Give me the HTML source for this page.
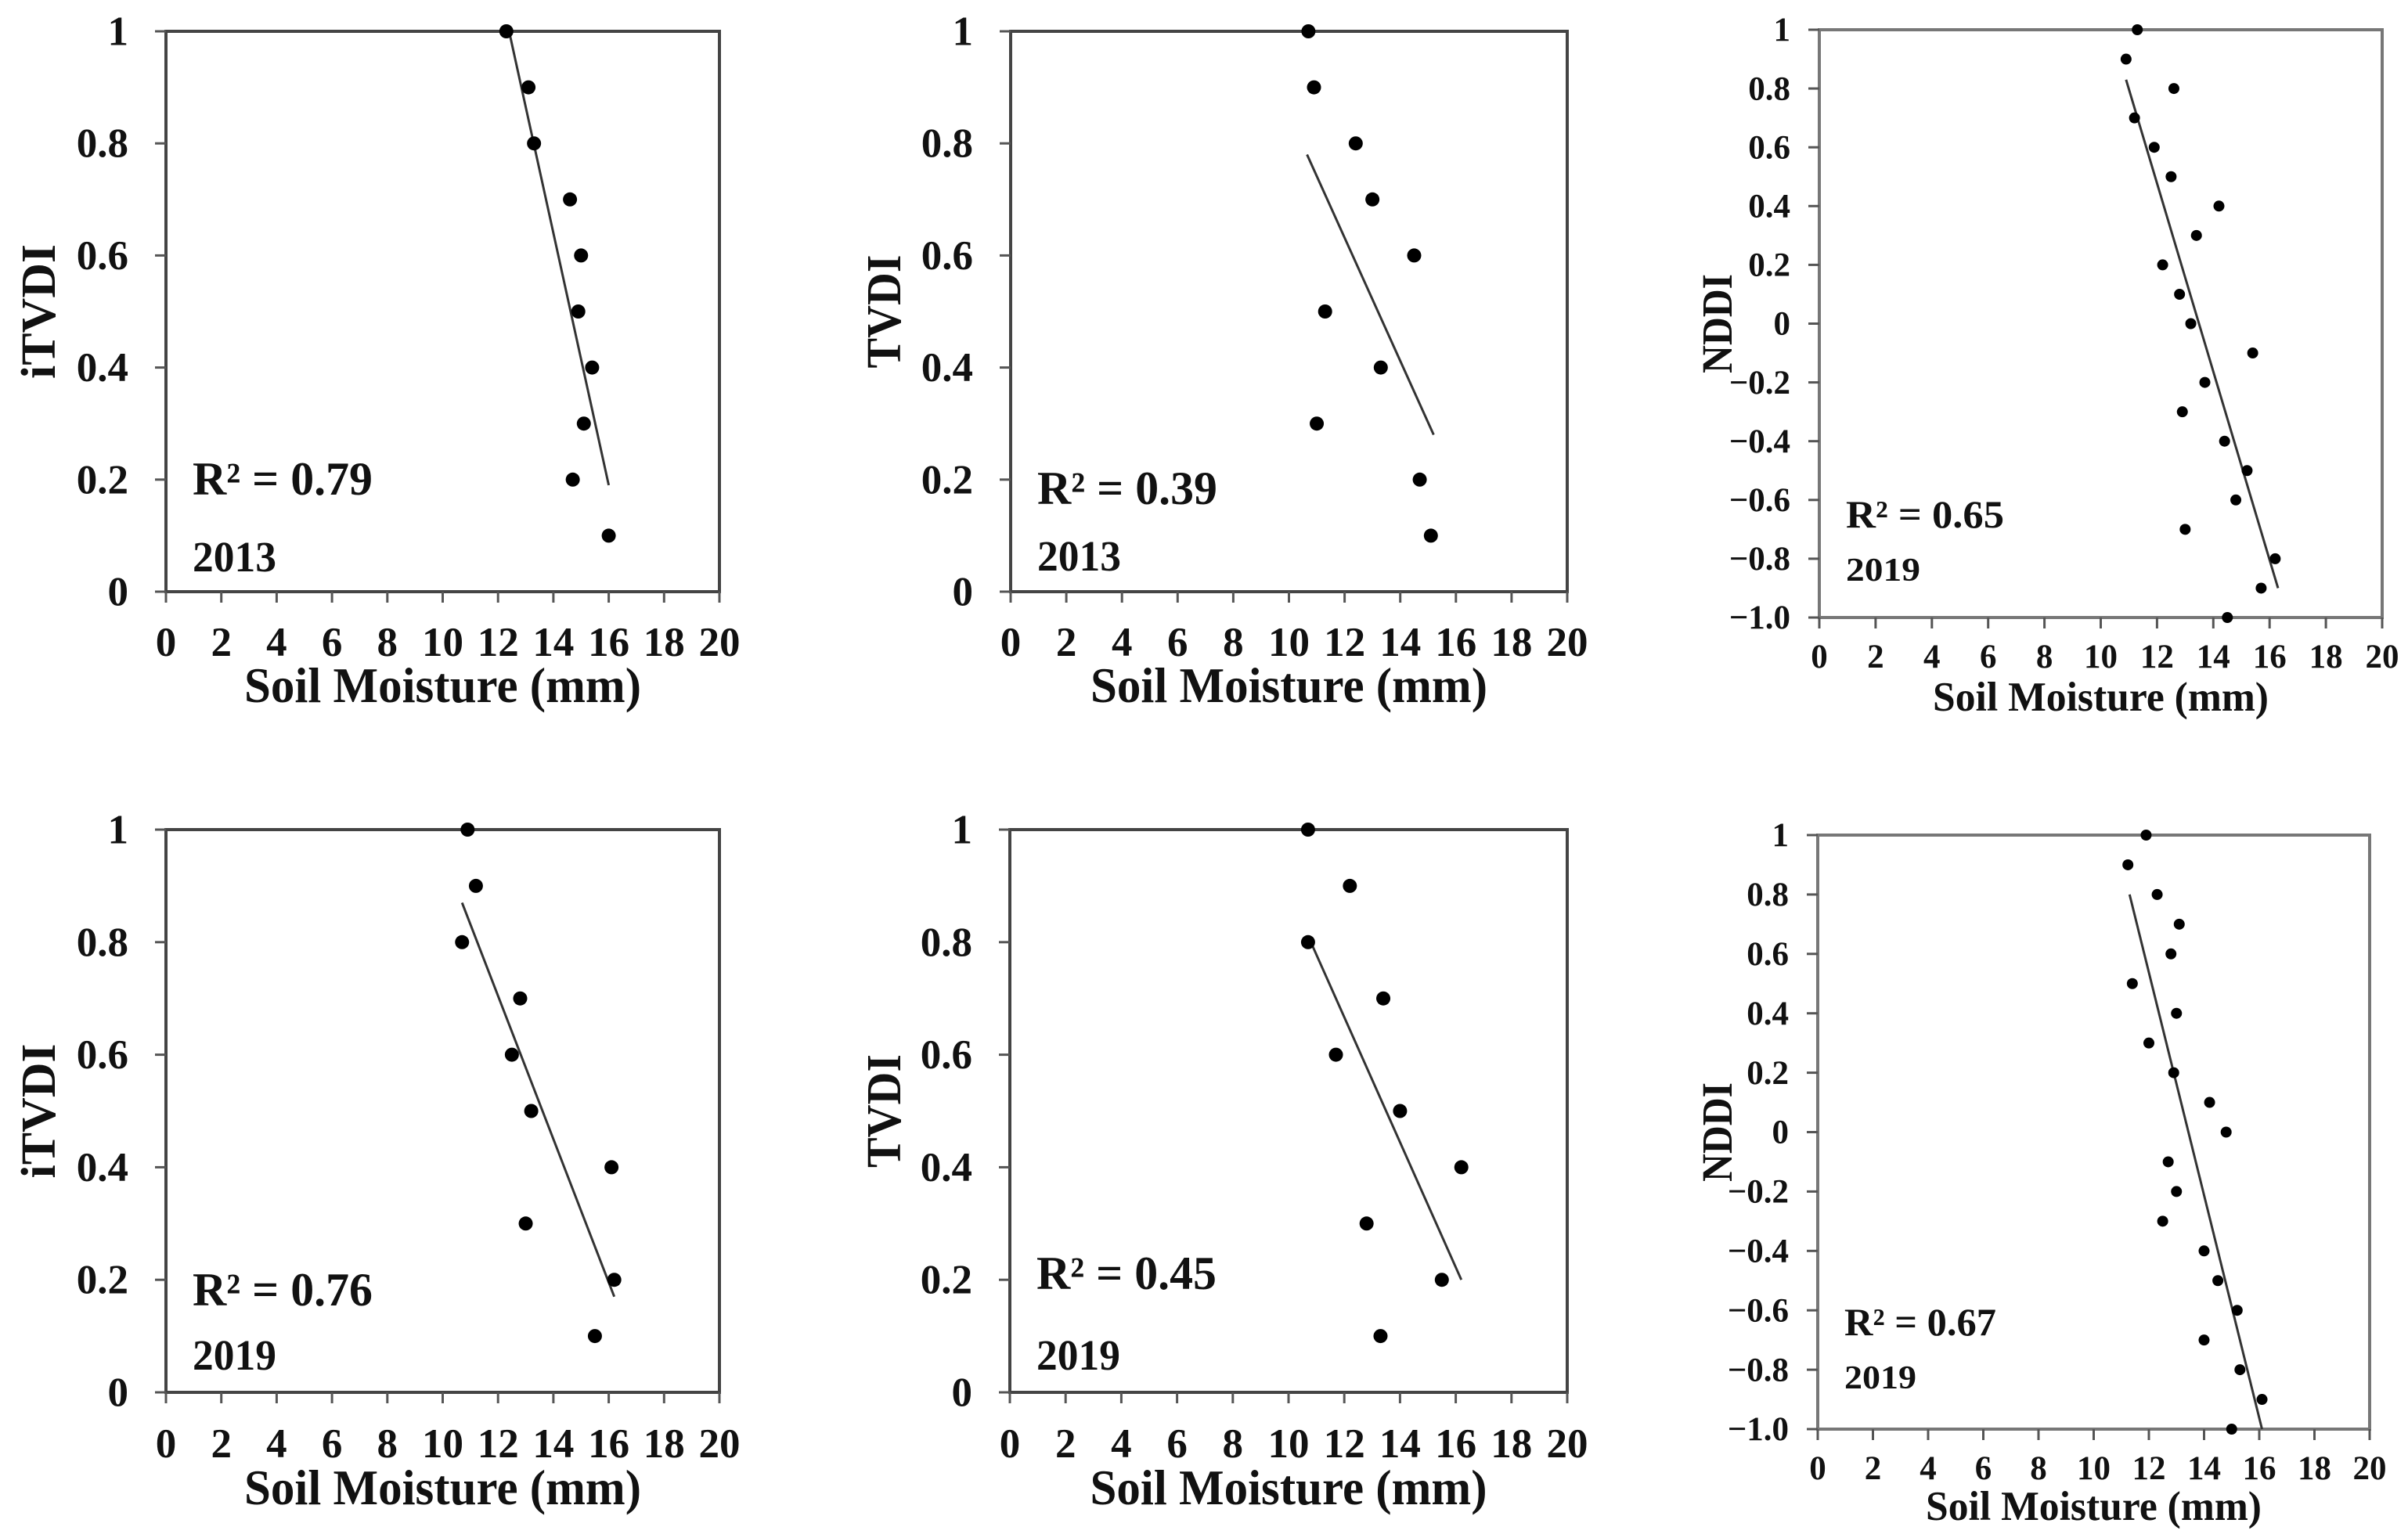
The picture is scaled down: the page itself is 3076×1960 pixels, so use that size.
<!DOCTYPE html>
<html><head><meta charset="utf-8">
<style>
html,body{margin:0;padding:0;background:#fff;}
svg{display:block;}
text{font-family:"Liberation Serif",serif;font-weight:bold;fill:#111;}
</style></head>
<body>
<svg id="fig" width="3076" height="1960" viewBox="0 0 3076 1960" xmlns="http://www.w3.org/2000/svg"></svg>
<script>
// ---- data ----
const xTicks = [0,2,4,6,8,10,12,14,16,18,20];
const yTicks01 = [0,0.2,0.4,0.6,0.8,1];
const yTicks01Labels = ["0","0.2","0.4","0.6","0.8","1"];
const yTicksNddi = [-1,-0.8,-0.6,-0.4,-0.2,0,0.2,0.4,0.6,0.8,1];
const yTicksNddiLabels = ["\u22121.0","\u22120.8","\u22120.6","\u22120.4","\u22120.2","0","0.2","0.4","0.6","0.8","1"];

const p1X = [12.3,13.1,13.3,14.6,15.0,14.9,15.4,15.1,14.7,16.0];
const p1Y = [1,0.9,0.8,0.7,0.6,0.5,0.4,0.3,0.2,0.1];
const p1FitX = [12.4,16.0];
const p1FitY = [1.0,0.19];

const p2X = [10.7,10.9,12.4,13.0,14.5,11.3,13.3,11.0,14.7,15.1];
const p2Y = [1,0.9,0.8,0.7,0.6,0.5,0.4,0.3,0.2,0.1];
const p2FitX = [10.65,15.2];
const p2FitY = [0.78,0.28];

const p3X = [11.3,10.9,12.6,11.2,11.9,12.5,14.2,13.4,12.2,12.8,13.2,15.4,13.7,12.9,14.4,15.2,14.8,13.0,16.2,15.7,14.5];
const p3Y = [1,0.9,0.8,0.7,0.6,0.5,0.4,0.3,0.2,0.1,0,-0.1,-0.2,-0.3,-0.4,-0.5,-0.6,-0.7,-0.8,-0.9,-1.0];
const p3FitX = [10.9,16.3];
const p3FitY = [0.83,-0.9];

const p4X = [10.9,11.2,10.7,12.8,12.5,13.2,16.1,13.0,16.2,15.5];
const p4Y = [1,0.9,0.8,0.7,0.6,0.5,0.4,0.3,0.2,0.1];
const p4FitX = [10.7,16.2];
const p4FitY = [0.87,0.17];

const p5X = [10.7,12.2,10.7,13.4,11.7,14.0,16.2,12.8,15.5,13.3];
const p5Y = [1,0.9,0.8,0.7,0.6,0.5,0.4,0.3,0.2,0.1];
const p5FitX = [10.8,16.2];
const p5FitY = [0.8,0.2];

const p6X = [11.9,11.24,12.3,13.1,12.8,11.4,13.0,12.0,12.9,14.2,14.8,12.7,13.0,12.5,14.0,14.5,15.2,14.0,15.3,16.1,15.0];
const p6Y = [1,0.9,0.8,0.7,0.6,0.5,0.4,0.3,0.2,0.1,0,-0.1,-0.2,-0.3,-0.4,-0.5,-0.6,-0.7,-0.8,-0.9,-1.0];
const p6FitX = [11.3,16.1];
const p6FitY = [0.8,-1.0];

const NS = "http://www.w3.org/2000/svg";
const svg = document.getElementById('fig');
function mk(tag, attrs, parent){
  const e = document.createElementNS(NS, tag);
  for (const k in attrs) e.setAttribute(k, attrs[k]);
  (parent||svg).appendChild(e);
  return e;
}

function panel(cfg){
  const g = mk('g', {});
  
  
  const L=cfg.l,R=cfg.r,T=cfg.t,B=cfg.b;
  const sx = v => L + (v-0)/(20-0)*(R-L);
  const sy = v => B - (v-cfg.ymin)/(cfg.ymax-cfg.ymin)*(B-T);
  const fs = cfg.small ? 43 : 53;
  const fr = mk('rect',{x:L,y:T,width:R-L,height:B-T,fill:'none',stroke:cfg.small?'#777':'#444','stroke-width':4},g);
  
  
  xTicks.forEach(v=>{
    const x=sx(v);
    const tk = mk('line',{x1:x,y1:B,x2:x,y2:B+14,stroke:'#555','stroke-width':3},g);
    
    
    const t = mk('text',{x:x,y:cfg.xtickY,'font-size':fs,'text-anchor':'middle'},g);
    t.textContent = v;
    
    
  });
  cfg.yt.forEach((v,i)=>{
    const y=sy(v);
    const tk = mk('line',{x1:L-14,y1:y,x2:L,y2:y,stroke:'#555','stroke-width':3},g);
    
    
    const t = mk('text',{x:L-(cfg.small?37:48),y:y+fs*0.33,'font-size':fs,'text-anchor':'end'},g);
    t.textContent = cfg.ytl[i];
    
    
  });
  const xt = mk('text',{x:(L+R)/2,y:cfg.xtitleY,'font-size':cfg.small?53:63,'text-anchor':'middle',textLength:cfg.small?429:507,lengthAdjust:'spacingAndGlyphs'},g);
  xt.textContent = 'Soil Moisture (mm)';
  
  
  const yc = (T+B)/2;
  const yt = mk('text',{x:cfg.ytitleX,y:yc,'font-size':cfg.small?55:62,'text-anchor':'middle',transform:`rotate(-90 ${cfg.ytitleX} ${yc})`,textLength:cfg.ylen,lengthAdjust:'spacingAndGlyphs'},g);
  yt.textContent = cfg.ylabel;
  
  
  const fl = mk('line',{x1:sx(cfg.fx[0]),y1:sy(cfg.fy[0]),x2:sx(cfg.fx[1]),y2:sy(cfg.fy[1]),stroke:'#333','stroke-width':3},g);
  
  
  cfg.xs.forEach((xv,i)=>{
    const c = mk('circle',{cx:sx(xv),cy:sy(cfg.ys[i]),r:cfg.small?7:9,fill:'#000'},g);
    
    
  });
  const r2 = mk('text',{x:L+34,y:cfg.r2Y,'font-size':cfg.small?50:60,textLength:cfg.r2len,lengthAdjust:'spacingAndGlyphs'},g);
  r2.textContent = cfg.r2;
  
  
  const yr = mk('text',{x:L+34,y:cfg.yrY,'font-size':cfg.small?42:55,textLength:cfg.yrlen,lengthAdjust:'spacingAndGlyphs'},g);
  yr.textContent = cfg.year;
  
  
}

panel({name:'panel-itvdi-2013',l:212,r:919,t:40,b:756,ymin:0,ymax:1,yt:yTicks01,ytl:yTicks01Labels,xs:p1X,ys:p1Y,fx:p1FitX,fy:p1FitY,
  ylabel:'iTVDI',ylen:172,ytitleX:70,xtickY:838,xtitleY:897,r2:'R² = 0.79',r2len:230,r2Y:632,year:'2013',yrlen:107,yrY:730});
panel({name:'panel-tvdi-2013',l:1291,r:2002,t:40,b:756,ymin:0,ymax:1,yt:yTicks01,ytl:yTicks01Labels,xs:p2X,ys:p2Y,fx:p2FitX,fy:p2FitY,
  ylabel:'TVDI',ylen:145,ytitleX:1150,xtickY:838,xtitleY:897,r2:'R² = 0.39',r2len:230,r2Y:644,year:'2013',yrlen:107,yrY:729});
panel({name:'panel-nddi-2019-top',l:2324,r:3043,t:38,b:789,ymin:-1,ymax:1,yt:yTicksNddi,ytl:yTicksNddiLabels,xs:p3X,ys:p3Y,fx:p3FitX,fy:p3FitY,small:true,
  ylabel:'NDDI',ylen:127,ytitleX:2212,xtickY:853,xtitleY:908,r2:'R² = 0.65',r2len:202,r2Y:674,year:'2019',yrlen:95,yrY:742});
panel({name:'panel-itvdi-2019',l:212,r:919,t:1060,b:1779,ymin:0,ymax:1,yt:yTicks01,ytl:yTicks01Labels,xs:p4X,ys:p4Y,fx:p4FitX,fy:p4FitY,
  ylabel:'iTVDI',ylen:172,ytitleX:70,xtickY:1862,xtitleY:1922,r2:'R² = 0.76',r2len:230,r2Y:1668,year:'2019',yrlen:107,yrY:1750});
panel({name:'panel-tvdi-2019',l:1290,r:2002,t:1060,b:1779,ymin:0,ymax:1,yt:yTicks01,ytl:yTicks01Labels,xs:p5X,ys:p5Y,fx:p5FitX,fy:p5FitY,
  ylabel:'TVDI',ylen:145,ytitleX:1150,xtickY:1862,xtitleY:1922,r2:'R² = 0.45',r2len:230,r2Y:1647,year:'2019',yrlen:107,yrY:1750});
panel({name:'panel-nddi-2019-bottom',l:2322,r:3027,t:1067,b:1826,ymin:-1,ymax:1,yt:yTicksNddi,ytl:yTicksNddiLabels,xs:p6X,ys:p6Y,fx:p6FitX,fy:p6FitY,small:true,
  ylabel:'NDDI',ylen:127,ytitleX:2212,xtickY:1890,xtitleY:1942,r2:'R² = 0.67',r2len:194,r2Y:1706,year:'2019',yrlen:92,yrY:1774});
</script>
</body></html>
